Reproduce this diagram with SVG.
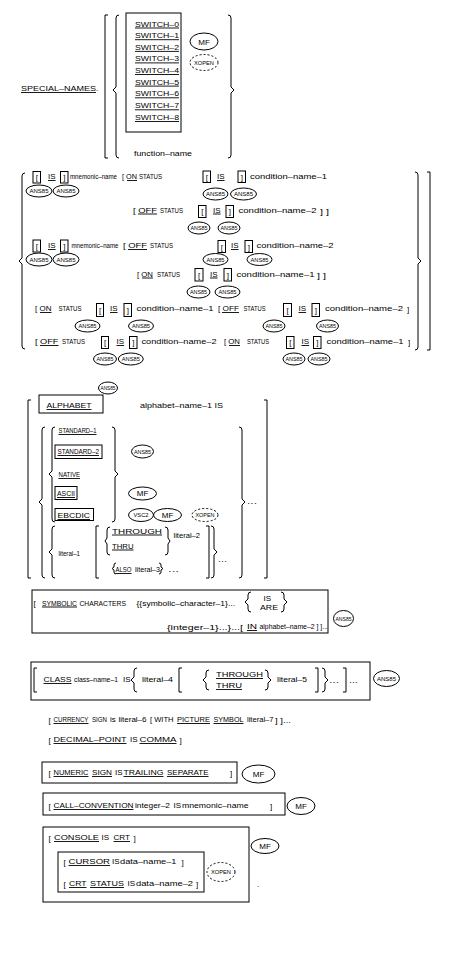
<svg xmlns="http://www.w3.org/2000/svg" width="465" height="960" viewBox="0 0 465 960">
<style>
.t{font-family:"Liberation Sans",Arial,sans-serif;font-size:8px;fill:#000}
.s{font-size:6.6px}
.m{text-anchor:middle}
.l{font-family:"Liberation Sans",Arial,sans-serif;font-size:6px;fill:#000;text-anchor:middle}
.lm{font-family:"Liberation Sans",Arial,sans-serif;font-size:8px;fill:#000;text-anchor:middle}
.e{fill:#fff;stroke:#000;stroke-width:1}
.d{fill:#fff;stroke:#000;stroke-width:1;stroke-dasharray:2,2}
.b{fill:none;stroke:#000;stroke-width:1}
.ul{fill:none;stroke:#000;stroke-width:0.9}
</style>
<rect width="465" height="960" fill="#fff"/>

<g id="special-names">
<text class="t" x="21" y="91" textLength="75" lengthAdjust="spacingAndGlyphs">SPECIAL–NAMES</text><text class="t" x="96" y="91">.</text>
<path class="b" d="M108,15 H105 V158 H108"/>
<path class="b" d="M119,15 Q116,15 116,18 V87 L113,90 L116,93 V155 Q116,158 119,158"/>
<path class="b" d="M228,15 Q231,15 231,18 V87 L234,90 L231,93 V155 Q231,158 228,158"/>
<rect class="b" x="126" y="13" width="55" height="119"/>
<text class="t" x="135" y="26.5" textLength="44" lengthAdjust="spacingAndGlyphs">SWITCH–0</text>
<text class="t" x="135" y="38.2" textLength="44" lengthAdjust="spacingAndGlyphs">SWITCH–1</text>
<text class="t" x="135" y="49.9" textLength="44" lengthAdjust="spacingAndGlyphs">SWITCH–2</text>
<text class="t" x="135" y="61.4" textLength="44" lengthAdjust="spacingAndGlyphs">SWITCH–3</text>
<text class="t" x="135" y="73" textLength="44" lengthAdjust="spacingAndGlyphs">SWITCH–4</text>
<text class="t" x="135" y="84.6" textLength="44" lengthAdjust="spacingAndGlyphs">SWITCH–5</text>
<text class="t" x="135" y="96.3" textLength="44" lengthAdjust="spacingAndGlyphs">SWITCH–6</text>
<text class="t" x="135" y="108.3" textLength="44" lengthAdjust="spacingAndGlyphs">SWITCH–7</text>
<text class="t" x="135" y="120" textLength="44" lengthAdjust="spacingAndGlyphs">SWITCH–8</text>
<path class="ul" d="M21,92.5 H96 M135,28 H179 M135,39.7 H179 M135,51.4 H179 M135,62.9 H179 M135,74.5 H179 M135,86.1 H179 M135,97.8 H179 M135,109.8 H179 M135,121.5 H179"/>
<ellipse class="e" cx="204" cy="41.5" rx="14" ry="8.5"/><text class="lm" x="204" y="44.5">MF</text>
<ellipse class="d" cx="204" cy="62.5" rx="14" ry="8"/><text class="l" x="204" y="64.7" textLength="20" lengthAdjust="spacingAndGlyphs">XOPEN</text>
<text class="t" x="134" y="156" textLength="58" lengthAdjust="spacingAndGlyphs">function–name</text>
</g>

<g id="mnemonic">
<path class="b" d="M25,173 Q22,173 22,176 V258 L19,261 L22,264 V346 Q22,349 25,349"/>
<path class="b" d="M415,172 Q418,172 418,175 V258 L421,261 L418,264 V347 Q418,350 415,350"/>
<path class="b" d="M427,172 H430 V350 H427"/>
<path class="ul" d="M48,180.5 H55.6 M127,180.5 H137 M217,180.5 H224.6 M138,214 H157 M213,214 H220.6 M48,249.5 H55.6 M128,249.5 H147 M231,249.5 H238.6 M142,278 H153 M210,278 H217.6 M40,312.5 H51.5 M110,312.5 H117.6 M222,312.5 H239 M298.5,312.5 H306.1 M40,345.5 H58.5 M116.5,345.5 H124.1 M229,345.5 H240 M301.5,345.5 H309.1"/>
<!-- line 1 -->
<rect class="b" x="33" y="171.5" width="7.5" height="11.5"/><text class="t m" x="36.8" y="180">[</text>
<text class="t" x="48" y="179">IS</text>
<rect class="b" x="60.5" y="171.5" width="7.5" height="11.5"/><text class="t m" x="64.3" y="180">]</text>
<text class="t s" x="70" y="179" textLength="47" lengthAdjust="spacingAndGlyphs">mnemonic–name</text>
<text class="t" x="122" y="179" textLength="15" lengthAdjust="spacingAndGlyphs">[ ON</text>
<text class="t" x="139" y="179" textLength="23" lengthAdjust="spacingAndGlyphs">STATUS</text>
<rect class="b" x="203" y="171" width="7.5" height="11.5"/><text class="t m" x="206.8" y="179.5">[</text>
<text class="t" x="217" y="179">IS</text>
<rect class="b" x="238" y="171" width="7.5" height="11.5"/><text class="t m" x="241.8" y="179.5">]</text>
<text class="t" x="250" y="179" textLength="77" lengthAdjust="spacingAndGlyphs">condition–name–1</text>
<ellipse class="e" cx="39" cy="191" rx="13" ry="6"/><text class="l" x="39" y="193.2" textLength="19" lengthAdjust="spacingAndGlyphs">ANS85</text>
<ellipse class="e" cx="66" cy="191" rx="13" ry="6"/><text class="l" x="66" y="193.2" textLength="19" lengthAdjust="spacingAndGlyphs">ANS85</text>
<ellipse class="e" cx="215.5" cy="194" rx="12.5" ry="6"/><text class="l" x="215.5" y="196.2" textLength="19" lengthAdjust="spacingAndGlyphs">ANS85</text>
<ellipse class="e" cx="243.5" cy="194" rx="13" ry="6"/><text class="l" x="243.5" y="196.2" textLength="19" lengthAdjust="spacingAndGlyphs">ANS85</text>
<!-- line 2 -->
<text class="t" x="133" y="212.5" textLength="24" lengthAdjust="spacingAndGlyphs">[ OFF</text>
<text class="t" x="160" y="212.5" textLength="23" lengthAdjust="spacingAndGlyphs">STATUS</text>
<rect class="b" x="198.5" y="205.5" width="7.5" height="12"/><text class="t m" x="202.3" y="214">[</text>
<text class="t" x="213" y="212.5">IS</text>
<rect class="b" x="226" y="205.5" width="7.5" height="12"/><text class="t m" x="229.8" y="214">]</text>
<text class="t" x="238.5" y="212.5" textLength="78" lengthAdjust="spacingAndGlyphs">condition–name–2</text>
<text class="t" x="320" y="213.5" textLength="9" lengthAdjust="spacingAndGlyphs">] ]</text>
<ellipse class="e" cx="199" cy="228" rx="11" ry="6"/><text class="l" x="199" y="230.2" textLength="17" lengthAdjust="spacingAndGlyphs">ANS85</text>
<ellipse class="e" cx="229" cy="228" rx="11" ry="6"/><text class="l" x="229" y="230.2" textLength="17" lengthAdjust="spacingAndGlyphs">ANS85</text>
<!-- line 3 -->
<rect class="b" x="33" y="240" width="7.5" height="12"/><text class="t m" x="36.8" y="249">[</text>
<text class="t" x="48" y="248">IS</text>
<rect class="b" x="60.5" y="240" width="7.5" height="12"/><text class="t m" x="64.3" y="249">]</text>
<text class="t s" x="71.5" y="248" textLength="47" lengthAdjust="spacingAndGlyphs">mnemonic–name</text>
<text class="t" x="123" y="248" textLength="24" lengthAdjust="spacingAndGlyphs">[ OFF</text>
<text class="t" x="150" y="248" textLength="23" lengthAdjust="spacingAndGlyphs">STATUS</text>
<rect class="b" x="218" y="240.5" width="7.5" height="12"/><text class="t m" x="221.8" y="249.5">[</text>
<text class="t" x="231" y="248">IS</text>
<rect class="b" x="245" y="240.5" width="7.5" height="12"/><text class="t m" x="248.8" y="249.5">]</text>
<text class="t" x="256.5" y="248" textLength="77" lengthAdjust="spacingAndGlyphs">condition–name–2</text>
<ellipse class="e" cx="39" cy="259.5" rx="13" ry="6.5"/><text class="l" x="39" y="261.7" textLength="19" lengthAdjust="spacingAndGlyphs">ANS85</text>
<ellipse class="e" cx="66" cy="259.5" rx="13" ry="6.5"/><text class="l" x="66" y="261.7" textLength="19" lengthAdjust="spacingAndGlyphs">ANS85</text>
<ellipse class="e" cx="215.5" cy="259.5" rx="12.5" ry="6"/><text class="l" x="215.5" y="261.7" textLength="18" lengthAdjust="spacingAndGlyphs">ANS85</text>
<ellipse class="e" cx="259.5" cy="259.5" rx="12.5" ry="6"/><text class="l" x="259.5" y="261.7" textLength="18" lengthAdjust="spacingAndGlyphs">ANS85</text>
<!-- line 4 -->
<text class="t" x="137" y="276.5" textLength="16" lengthAdjust="spacingAndGlyphs">[ ON</text>
<text class="t" x="157" y="276.5" textLength="23" lengthAdjust="spacingAndGlyphs">STATUS</text>
<rect class="b" x="195" y="268.5" width="8" height="12.5"/><text class="t m" x="199" y="277.5">[</text>
<text class="t" x="210" y="276.5">IS</text>
<rect class="b" x="224" y="268.5" width="7.5" height="12.5"/><text class="t m" x="227.8" y="277.5">]</text>
<text class="t" x="236.5" y="276.5" textLength="78" lengthAdjust="spacingAndGlyphs">condition–name–1</text>
<text class="t" x="317" y="277.5" textLength="9" lengthAdjust="spacingAndGlyphs">] ]</text>
<ellipse class="e" cx="198.5" cy="292" rx="11.5" ry="6"/><text class="l" x="198.5" y="294.2" textLength="17" lengthAdjust="spacingAndGlyphs">ANS85</text>
<ellipse class="e" cx="227.5" cy="292" rx="12.5" ry="6"/><text class="l" x="227.5" y="294.2" textLength="18" lengthAdjust="spacingAndGlyphs">ANS85</text>
<!-- line 5 -->
<text class="t" x="35" y="311" textLength="16.5" lengthAdjust="spacingAndGlyphs">[ ON</text>
<text class="t" x="58.5" y="311" textLength="23" lengthAdjust="spacingAndGlyphs">STATUS</text>
<rect class="b" x="96.5" y="303.5" width="7" height="13"/><text class="t m" x="100" y="312.5">[</text>
<text class="t" x="110" y="311">IS</text>
<rect class="b" x="124" y="303.5" width="7.5" height="13"/><text class="t m" x="127.8" y="312.5">]</text>
<text class="t" x="136.5" y="311" textLength="77" lengthAdjust="spacingAndGlyphs">condition–name–1</text>
<text class="t" x="218" y="311" textLength="21" lengthAdjust="spacingAndGlyphs">[ OFF</text>
<text class="t" x="243.5" y="311" textLength="22" lengthAdjust="spacingAndGlyphs">STATUS</text>
<rect class="b" x="283.5" y="303.5" width="8" height="13"/><text class="t m" x="287.5" y="312.5">[</text>
<text class="t" x="298.5" y="311">IS</text>
<rect class="b" x="312" y="303.5" width="7.5" height="13"/><text class="t m" x="315.8" y="312.5">]</text>
<text class="t" x="325" y="311" textLength="78" lengthAdjust="spacingAndGlyphs">condition–name–2</text>
<text class="t" x="407" y="312">]</text>
<ellipse class="e" cx="87.5" cy="326" rx="12.5" ry="6"/><text class="l" x="87.5" y="328.2" textLength="18" lengthAdjust="spacingAndGlyphs">ANS85</text>
<ellipse class="e" cx="141" cy="326" rx="12.5" ry="6"/><text class="l" x="141" y="328.2" textLength="18" lengthAdjust="spacingAndGlyphs">ANS85</text>
<ellipse class="e" cx="274" cy="326" rx="11" ry="6"/><text class="l" x="274" y="328.2" textLength="17" lengthAdjust="spacingAndGlyphs">ANS85</text>
<ellipse class="e" cx="327.5" cy="326" rx="11" ry="6"/><text class="l" x="327.5" y="328.2" textLength="17" lengthAdjust="spacingAndGlyphs">ANS85</text>
<!-- line 6 -->
<text class="t" x="35" y="344" textLength="23.5" lengthAdjust="spacingAndGlyphs">[ OFF</text>
<text class="t" x="62" y="344" textLength="23" lengthAdjust="spacingAndGlyphs">STATUS</text>
<rect class="b" x="101.5" y="336.5" width="7" height="12"/><text class="t m" x="105" y="345">[</text>
<text class="t" x="116.5" y="344">IS</text>
<rect class="b" x="129.5" y="336.5" width="7.5" height="12"/><text class="t m" x="133.3" y="345">]</text>
<text class="t" x="141.5" y="344" textLength="75" lengthAdjust="spacingAndGlyphs">condition–name–2</text>
<text class="t" x="224" y="344" textLength="16" lengthAdjust="spacingAndGlyphs">[ ON</text>
<text class="t" x="247" y="344" textLength="22" lengthAdjust="spacingAndGlyphs">STATUS</text>
<rect class="b" x="286.5" y="336.5" width="7.5" height="12"/><text class="t m" x="290.3" y="345">[</text>
<text class="t" x="301.5" y="344">IS</text>
<rect class="b" x="313.5" y="336.5" width="7.5" height="12"/><text class="t m" x="317.3" y="345">]</text>
<text class="t" x="326.5" y="344" textLength="77" lengthAdjust="spacingAndGlyphs">condition–name–1</text>
<text class="t" x="408" y="345">]</text>
<ellipse class="e" cx="105" cy="359" rx="11.5" ry="6"/><text class="l" x="105" y="361.2" textLength="17" lengthAdjust="spacingAndGlyphs">ANS85</text>
<ellipse class="e" cx="130.8" cy="359" rx="12.5" ry="6"/><text class="l" x="130.8" y="361.2" textLength="18" lengthAdjust="spacingAndGlyphs">ANS85</text>
<ellipse class="e" cx="294" cy="359" rx="11" ry="6"/><text class="l" x="294" y="361.2" textLength="17" lengthAdjust="spacingAndGlyphs">ANS85</text>
<ellipse class="e" cx="319" cy="359" rx="11" ry="6"/><text class="l" x="319" y="361.2" textLength="17" lengthAdjust="spacingAndGlyphs">ANS85</text>
</g>

<g id="alphabet">
<ellipse class="e" cx="108" cy="388" rx="9.5" ry="6"/><text class="l" x="108" y="390.2" textLength="15" lengthAdjust="spacingAndGlyphs">ANS85</text>
<path class="b" d="M31,400 H28 V578 H31"/>
<path class="b" d="M264,400 H267 V578 H264"/>
<rect class="b" x="39" y="395" width="64" height="18"/>
<text class="t" x="46.5" y="408" textLength="45" lengthAdjust="spacingAndGlyphs">ALPHABET</text>
<text class="t" x="140" y="408" textLength="83" lengthAdjust="spacingAndGlyphs">alphabet–name–1 IS</text>
<path class="b" d="M45,427 Q42,427 42,430 V499 L39,502 L42,505 V575 Q42,578 45,578"/>
<path class="b" d="M239,427 Q242,427 242,430 V499 L245,502 L242,505 V575 Q242,578 239,578"/>
<text class="t" x="247" y="504" textLength="10" lengthAdjust="spacingAndGlyphs">...</text>
<path class="b" d="M55,427 Q52,427 52,430 V471 L49,474 L52,477 V519 Q52,522 55,522"/>
<path class="b" d="M112,427 Q115,427 115,430 V471 L118,474 L115,477 V519 Q115,522 112,522"/>
<text class="t" x="58.5" y="433" textLength="38" lengthAdjust="spacingAndGlyphs">STANDARD–1</text>
<rect class="b" x="55" y="445" width="47" height="13.5"/>
<text class="t" x="57.5" y="454" textLength="41.5" lengthAdjust="spacingAndGlyphs">STANDARD–2</text>
<ellipse class="e" cx="142.5" cy="451.5" rx="11" ry="6.5"/><text class="l" x="142.5" y="453.7" textLength="17" lengthAdjust="spacingAndGlyphs">ANS85</text>
<text class="t" x="58.5" y="477" textLength="21.5" lengthAdjust="spacingAndGlyphs">NATIVE</text>
<rect class="b" x="55" y="486.5" width="22" height="13"/>
<text class="t" x="57" y="496" textLength="18" lengthAdjust="spacingAndGlyphs">ASCII</text>
<ellipse class="e" cx="142.5" cy="493.5" rx="14" ry="6.5"/><text class="lm" x="142.5" y="496.3">MF</text>
<rect class="b" x="55" y="508.5" width="38.5" height="12"/>
<text class="t" x="57.5" y="518" textLength="32.5" lengthAdjust="spacingAndGlyphs">EBCDIC</text>
<ellipse class="e" cx="141" cy="515" rx="12.5" ry="6.5"/><text class="l" x="141" y="517.3" textLength="15" lengthAdjust="spacingAndGlyphs">VSC2</text>
<ellipse class="e" cx="167.5" cy="515" rx="14" ry="6.5"/><text class="lm" x="167.5" y="517.8">MF</text>
<ellipse class="d" cx="205" cy="515" rx="13" ry="6.5"/><text class="l" x="205" y="517.2" textLength="19" lengthAdjust="spacingAndGlyphs">XOPEN</text>
<path class="b" d="M55,526 Q52,526 52,529 V549 L49,552 L52,555 V575 Q52,578 55,578"/>
<path class="b" d="M211,526 Q214,526 214,529 V549 L217,552 L214,555 V575 Q214,578 211,578"/>
<text class="t" x="218" y="562" textLength="9" lengthAdjust="spacingAndGlyphs">...</text>
<path class="b" d="M99,526 H96 V578 H99"/>
<path class="b" d="M206,526 H209 V578 H206"/>
<text class="t" x="58.5" y="556" textLength="21.5" lengthAdjust="spacingAndGlyphs">literal–1</text>
<path class="b" d="M110,527 Q107,527 107,530 V538 L105,541 L107,544 V552 Q107,555 110,555"/>
<path class="b" d="M165,527 Q168,527 168,530 V538 L170,541 L168,544 V552 Q168,555 165,555"/>
<text class="t" x="112" y="533.5" textLength="50" lengthAdjust="spacingAndGlyphs">THROUGH</text>
<text class="t" x="112" y="548.5" textLength="21.5" lengthAdjust="spacingAndGlyphs">THRU</text>
<text class="t" x="173.5" y="538" textLength="26.5" lengthAdjust="spacingAndGlyphs">literal–2</text>
<path class="b" d="M116,563 Q114,563 114,565 V567 L112,568.5 L114,570 V572 Q114,574 116,574"/>
<text class="t" x="115.5" y="572" textLength="16" lengthAdjust="spacingAndGlyphs">ALSO</text>
<text class="t" x="135" y="572" textLength="25" lengthAdjust="spacingAndGlyphs">literal–3</text>
<path class="b" d="M159,563 Q161,563 161,565 V567 L163,568.5 L161,570 V572 Q161,574 159,574"/>
<text class="t" x="168" y="572" textLength="11" lengthAdjust="spacingAndGlyphs">...</text>
<path class="ul" d="M46.5,409.5 H91.5 M58.5,434.5 H96.5 M57.5,455.5 H99 M58.5,478.5 H80 M57,497.5 H75 M57.5,519.5 H90 M112,535 H162 M112,550 H133.5 M115.5,573.5 H131.5"/>
</g>

<g id="symbolic">
<rect class="b" x="32" y="590" width="296" height="43"/>
<text class="t" x="33.5" y="606">[</text>
<text class="t" x="42" y="605.5" textLength="35" lengthAdjust="spacingAndGlyphs">SYMBOLIC</text>
<text class="t" x="79.5" y="605.5" textLength="46.5" lengthAdjust="spacingAndGlyphs">CHARACTERS</text>
<text class="t" x="136.5" y="606" textLength="98.5" lengthAdjust="spacingAndGlyphs">{{symbolic–character–1}...</text>
<path class="b" d="M251,592 Q248,592 248,595 V599 L245,602 L248,605 V609 Q248,612 251,612"/>
<text class="t" x="263.5" y="600.5">IS</text>
<text class="t" x="260" y="609.5" textLength="18" lengthAdjust="spacingAndGlyphs">ARE</text>
<path class="b" d="M281,592 Q284,592 284,595 V599 L287,602 L284,605 V609 Q284,612 281,612"/>
<text class="t" x="167" y="629.5" textLength="76" lengthAdjust="spacingAndGlyphs">{integer–1}...}...[</text>
<text class="t" x="247" y="629" textLength="10" lengthAdjust="spacingAndGlyphs">IN</text>
<text class="t" x="259.5" y="629" textLength="68.5" lengthAdjust="spacingAndGlyphs">alphabet–name–2 ] ]...</text>
<path class="ul" d="M42,607 H77 M247,630.5 H257"/>
<ellipse class="e" cx="343.5" cy="618.5" rx="10" ry="8"/><text class="l" x="343.5" y="620.7" textLength="16" lengthAdjust="spacingAndGlyphs">ANS85</text>
</g>

<g id="class">
<rect class="b" x="31" y="662" width="339" height="38"/>
<path class="b" d="M37,668 H34 V692 H37"/>
<text class="t" x="43.5" y="682" textLength="28" lengthAdjust="spacingAndGlyphs">CLASS</text>
<text class="t s" x="74" y="682" textLength="44" lengthAdjust="spacingAndGlyphs">class–name–1</text>
<text class="t" x="123" y="682">IS</text>
<path class="b" d="M137,668 Q134,668 134,671 V677 L131,680 L134,683 V689 Q134,692 137,692"/>
<text class="t" x="142" y="682" textLength="31" lengthAdjust="spacingAndGlyphs">literal–4</text>
<path class="b" d="M182,668 H179 V692 H182"/>
<path class="b" d="M209,670 Q206,670 206,673 V677 L203,680 L206,683 V687 Q206,690 209,690"/>
<text class="t" x="216" y="677" textLength="47" lengthAdjust="spacingAndGlyphs">THROUGH</text>
<text class="t" x="216" y="688" textLength="26" lengthAdjust="spacingAndGlyphs">THRU</text>
<path class="b" d="M265,670 Q268,670 268,673 V677 L271,680 L268,683 V687 Q268,690 265,690"/>
<text class="t" x="277" y="682" textLength="30" lengthAdjust="spacingAndGlyphs">literal–5</text>
<path class="b" d="M315,668 H318 V692 H315"/>
<path class="b" d="M322,668 Q325,668 325,671 V677 L328,680 L325,683 V689 Q325,692 322,692"/>
<text class="t" x="329" y="683" textLength="10" lengthAdjust="spacingAndGlyphs">...</text>
<path class="b" d="M343,668 H346 V692 H343"/>
<text class="t" x="349" y="683" textLength="9" lengthAdjust="spacingAndGlyphs">...</text>
<path class="ul" d="M43.5,683.5 H71.5 M216,678.5 H263 M216,689.5 H242"/>
<ellipse class="e" cx="386.5" cy="678.5" rx="13" ry="8"/><text class="l" x="386.5" y="680.7" textLength="19" lengthAdjust="spacingAndGlyphs">ANS85</text>
</g>

<g id="currency">
<text class="t" x="48.5" y="722.5">[</text>
<text class="t s" x="53.5" y="722" textLength="35" lengthAdjust="spacingAndGlyphs">CURRENCY</text>
<text class="t" x="92" y="722" textLength="15" lengthAdjust="spacingAndGlyphs">SIGN</text>
<text class="t" x="110" y="722">is</text>
<text class="t" x="118.5" y="722" textLength="28" lengthAdjust="spacingAndGlyphs">literal–6</text>
<text class="t" x="150" y="722" textLength="23.5" lengthAdjust="spacingAndGlyphs">[ WITH</text>
<text class="t" x="177" y="722" textLength="33" lengthAdjust="spacingAndGlyphs">PICTURE</text>
<text class="t" x="213.5" y="722" textLength="30" lengthAdjust="spacingAndGlyphs">SYMBOL</text>
<text class="t" x="247" y="722" textLength="26.5" lengthAdjust="spacingAndGlyphs">literal–7</text>
<text class="t" x="275" y="722.5" textLength="16" lengthAdjust="spacingAndGlyphs">] ]...</text>
<path class="ul" d="M53.5,723.5 H88.5 M177,723.5 H210 M213.5,723.5 H243.5"/>
</g>

<g id="decimal-point">
<text class="t" x="48.5" y="742.5">[</text>
<text class="t" x="53.5" y="742" textLength="73" lengthAdjust="spacingAndGlyphs">DECIMAL–POINT</text>
<text class="t" x="130" y="742">IS</text>
<text class="t" x="139.5" y="742" textLength="37" lengthAdjust="spacingAndGlyphs">COMMA</text>
<text class="t" x="179.5" y="742.5">]</text>
<path class="ul" d="M53.5,743.5 H126.5 M139.5,743.5 H176.5"/>
</g>

<g id="numeric">
<rect class="b" x="42" y="762" width="195" height="21"/>
<text class="t" x="48.5" y="775.5">[</text>
<text class="t" x="53.5" y="775" textLength="35" lengthAdjust="spacingAndGlyphs">NUMERIC</text>
<text class="t" x="92" y="775" textLength="20" lengthAdjust="spacingAndGlyphs">SIGN</text>
<text class="t" x="115" y="775">IS</text>
<text class="t" x="123.5" y="775" textLength="40" lengthAdjust="spacingAndGlyphs">TRAILING</text>
<text class="t" x="167" y="775" textLength="41.5" lengthAdjust="spacingAndGlyphs">SEPARATE</text>
<text class="t" x="230" y="775.5">]</text>
<path class="ul" d="M53.5,776.5 H88.5 M92,776.5 H112 M123.5,776.5 H163.5 M167,776.5 H208.5"/>
<ellipse class="e" cx="258.5" cy="774" rx="16.5" ry="9"/><text class="lm" x="258.5" y="777">MF</text>
</g>

<g id="call-convention">
<rect class="b" x="43" y="793" width="242" height="22"/>
<text class="t" x="48.5" y="808.5">[</text>
<text class="t" x="53.5" y="808" textLength="80" lengthAdjust="spacingAndGlyphs">CALL–CONVENTION</text>
<text class="t" x="135" y="808" textLength="35" lengthAdjust="spacingAndGlyphs">integer–2</text>
<text class="t" x="173.5" y="808">IS</text>
<text class="t" x="182" y="808" textLength="66.5" lengthAdjust="spacingAndGlyphs">mnemonic–name</text>
<text class="t" x="270" y="808.5">]</text>
<path class="ul" d="M53.5,809.5 H133.5"/>
<ellipse class="e" cx="301" cy="806" rx="14" ry="8.5"/><text class="lm" x="301" y="809">MF</text>
</g>

<g id="console">
<rect class="b" x="43" y="827" width="206" height="75"/>
<text class="t" x="48.5" y="840.5">[</text>
<text class="t" x="54" y="840" textLength="45" lengthAdjust="spacingAndGlyphs">CONSOLE</text>
<text class="t" x="101.5" y="840">IS</text>
<text class="t" x="113.5" y="840" textLength="16.5" lengthAdjust="spacingAndGlyphs">CRT</text>
<text class="t" x="133.5" y="840.5">]</text>
<rect class="b" x="58" y="852" width="146" height="40"/>
<text class="t" x="63.5" y="864.5">[</text>
<text class="t" x="68.5" y="864" textLength="41.5" lengthAdjust="spacingAndGlyphs">CURSOR</text>
<text class="t" x="112" y="864">IS</text>
<text class="t" x="120" y="864" textLength="56.5" lengthAdjust="spacingAndGlyphs">data–name–1</text>
<text class="t" x="181.5" y="864.5">]</text>
<text class="t" x="63.5" y="886.5">[</text>
<text class="t" x="69" y="886" textLength="17.5" lengthAdjust="spacingAndGlyphs">CRT</text>
<text class="t" x="90" y="886" textLength="34" lengthAdjust="spacingAndGlyphs">STATUS</text>
<text class="t" x="127.5" y="886">IS</text>
<text class="t" x="136" y="886" textLength="57" lengthAdjust="spacingAndGlyphs">data–name–2</text>
<text class="t" x="196" y="886.5">]</text>
<path class="ul" d="M54,841.5 H99 M113.5,841.5 H130 M68.5,865.5 H110 M69,887.5 H86.5 M90,887.5 H124"/>
<ellipse class="d" cx="221" cy="872" rx="14" ry="9.5"/><text class="l" x="221" y="874.2" textLength="20" lengthAdjust="spacingAndGlyphs">XOPEN</text>
<ellipse class="e" cx="265" cy="846" rx="14" ry="7.5"/><text class="lm" x="265" y="849">MF</text>
<text class="t" x="257" y="887">.</text>
</g>
</svg>
